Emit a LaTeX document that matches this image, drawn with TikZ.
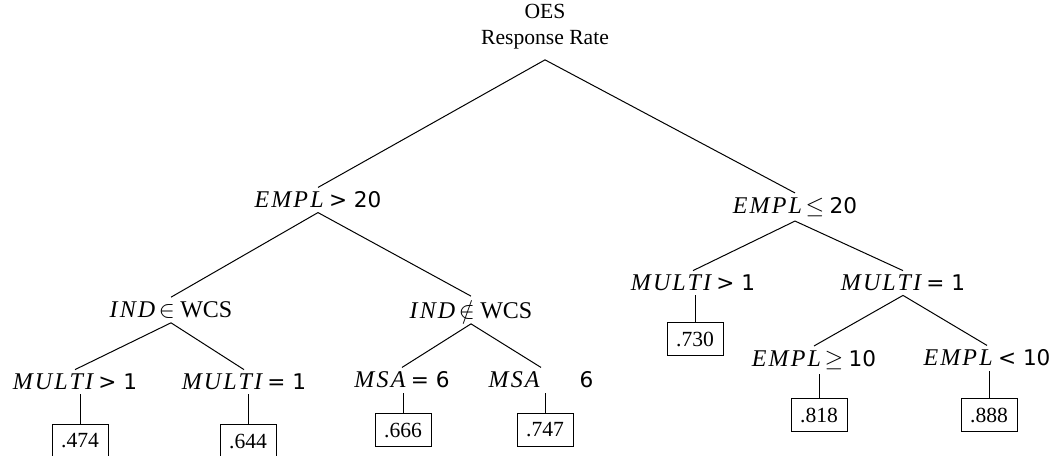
\documentclass[tikz,border=0pt]{standalone}
\usepackage{fontspec}
\setmainfont{Liberation Serif}
\newfontfamily\dv{DejaVu Sans}
% italic variable names, a little larger and spaced out
\newcommand\var[1]{{\fontsize{12}{13}\selectfont\itshape\addfontfeature{LetterSpace=9}#1}}
% relation symbols and set names at the size of the variable names
\newcommand\rel[1]{{\fontsize{12}{13}\selectfont$#1$}}
\newcommand\setname[1]{{\fontsize{12}{13}\selectfont #1}}
\begin{document}
\begin{tikzpicture}[x=0.5pt,y=-0.5pt,
  every node/.style={font=\fontsize{10.8}{13}\selectfont},
  split/.style={inner sep=2pt},
  leaf/.style={draw,line width=0.5pt,inner sep=2.2pt,minimum height=16.5pt,minimum width=28pt},
  branch/.style={line width=0.5pt}]
\useasboundingbox (0,0) rectangle (1058,455);
% root
\node[split,align=center,inner sep=5pt] (root) at (545,27) {OES\\Response Rate};
% first split
\node[split] (a) at (318,200) {\var{EMPL}\ {\dv> 20}};
\node[split] (b) at (795,207) {\var{EMPL}\,\rel{\leq}\ {\dv 20}};
% left subtree
\node[split] (a1) at (171,310) {\var{IND}\,\rel{\in}\ \setname{WCS}};
\node[split] (a2) at (471,310) {\var{IND}\,\rel{\notin}\ \setname{WCS}};
\node[split] (a11) at (75,382) {\var{MULTI}\ {\dv> 1}};
\node[split] (a12) at (244,382) {\var{MULTI}\ {\dv= 1}};
\node[split] (a21) at (402,380) {\var{MSA}\ {\dv= 6}};
\node[split] (a22) at (541,380) {\var{MSA}\hspace{20pt}{\dv 6}};
\node[leaf] (v1) at (80,441) {.474};
\node[leaf] (v2) at (248,441) {.644};
\node[leaf] (v3) at (403,430) {.666};
\node[leaf] (v4) at (545,430) {.747};
% right subtree
\node[split] (b1) at (693,283) {\var{MULTI}\ {\dv> 1}};
\node[split] (b2) at (903,283) {\var{MULTI}\ {\dv= 1}};
\node[leaf] (v5) at (695,339) {.730};
\node[split] (b21) at (814,360) {\var{EMPL}\,\rel{\geq}\ {\dv 10}};
\node[split] (b22) at (987,358) {\var{EMPL}\ {\dv< 10}};
\node[leaf] (v6) at (819,415) {.818};
\node[leaf] (v7) at (989,415) {.888};
% branches between splits
\draw[branch] (root.south) -- (a.north);
\draw[branch] (root.south) -- (b.north);
\draw[branch] (a.south) -- (a1.north);
\draw[branch] (a.south) -- (a2.north);
\draw[branch] (a1.south) -- (a11.north);
\draw[branch] (a1.south) -- (a12.north);
\draw[branch] (a2.south) -- (a21.north);
\draw[branch] (a2.south) -- (a22.north);
\draw[branch] (b.south) -- (b1.north);
\draw[branch] (b.south) -- (b2.north);
\draw[branch] (b2.south) -- (b21.north);
\draw[branch] (b2.south) -- (b22.north);
% stems down to the leaf values
\draw[branch] (v1.north) -- (v1.north |- a11.south);
\draw[branch] (v2.north) -- (v2.north |- a12.south);
\draw[branch] (v3.north) -- (v3.north |- a21.south);
\draw[branch] (v4.north) -- (v4.north |- a22.south);
\draw[branch] (v5.north) -- (v5.north |- b1.south);
\draw[branch] (v6.north) -- (v6.north |- b21.south);
\draw[branch] (v7.north) -- (v7.north |- b22.south);
\end{tikzpicture}
\end{document}
